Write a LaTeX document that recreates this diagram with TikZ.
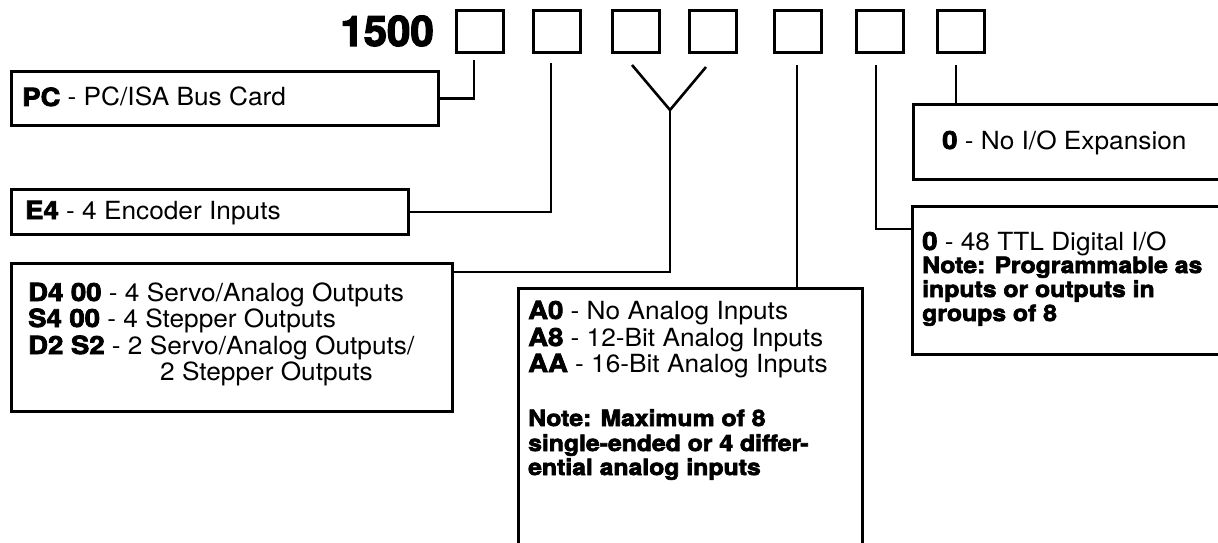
\documentclass[tikz,border=0pt]{standalone}
\usepackage{fontspec}
\setmainfont{TeX Gyre Heros}[FakeStretch=1.05, BoldFeatures={FakeBold=3, FakeStretch=1.1}]
\newfontfamily\numfont{TeX Gyre Heros}[BoldFeatures={FakeBold=3}]
\begin{document}
\begin{tikzpicture}[x=1pt,y=-1pt,
  lw/.style={line width=2.6pt},
  sq/.style={draw,lw,minimum width=47pt,minimum height=42pt,inner sep=0pt,anchor=north west},
  frame/.style={draw,lw,inner sep=0pt,anchor=north west},
  txt/.style={inner sep=0pt,anchor=base west,font=\fontsize{25}{30}\selectfont},
  notetxt/.style={inner sep=0pt,anchor=base west,font=\fontsize{22.5}{27}\selectfont\bfseries},
  wire/.style={lw}]
\useasboundingbox (0,0) rectangle (1218,543);
\clip (0,0) rectangle (1218,543);
% part number
\node[inner sep=0pt,anchor=base east,font=\fontsize{42}{46}\selectfont\numfont\bfseries] (num) at (434,46) {1500};
\foreach \x [count=\i] in {455,532,611,688,773,855,936} \node[sq] (b\i) at (\x,9.5) {};
% description boxes
\node[frame,minimum width=427pt,minimum height=54pt] (pc) at (10,70) {};
\node[frame,minimum width=397pt,minimum height=45pt] (e4) at (10,188) {};
\node[frame,minimum width=441pt,minimum height=148pt] (d4) at (10,262) {};
\node[frame,minimum width=344pt,minimum height=300pt] (ab) at (517,287) {};
\node[frame,minimum width=340pt,minimum height=75pt] (noio) at (912,103) {};
\node[frame,minimum width=340pt,minimum height=148pt] (ttl) at (911,205) {};
% texts
\node[txt] (tpc) at (22,106) {\textbf{PC} - PC/ISA Bus Card};
\node[txt] (te4) at (25,219) {\textbf{E4} - 4 Encoder Inputs};
\node[txt] (td1) at (28,301) {\textbf{D4 00} - 4 Servo/Analog Outputs};
\node[txt] (td2) at (28,327) {\textbf{S4 00} - 4 Stepper Outputs};
\node[txt] (td3) at (28,354) {\textbf{D2 S2} - 2 Servo/Analog Outputs/};
\node[txt] (td4) at (160,380) {2 Stepper Outputs};
\node[txt] (ta1) at (528,319) {\textbf{A0} - No Analog Inputs};
\node[txt] (ta2) at (528,346) {\textbf{A8} - 12-Bit Analog Inputs};
\node[txt] (ta3) at (528,372) {\textbf{AA} - 16-Bit Analog Inputs};
\node[notetxt] (tn1) at (528,426) {Note: Maximum of 8};
\node[notetxt] (tn2) at (528,451) {single-ended or 4 differ-};
\node[notetxt] (tn3) at (528,475) {ential analog inputs};
\node[txt] (tio) at (942,149) {\textbf{0} - No I/O Expansion};
\node[txt] (tt1) at (922,250) {\textbf{0} - 48 TTL Digital I/O};
\node[notetxt] (tt2) at (922,273) {Note: Programmable as};
\node[notetxt] (tt3) at (922,297) {inputs or outputs in};
\node[notetxt] (tt4) at (922,321) {groups of 8};
% connector free ends
\coordinate (c1) at (474,60);
\coordinate (c2) at (551,63);
\coordinate (c3) at (632,65);
\coordinate (c4) at (706,67);
\coordinate (yj) at (670,110);
\coordinate (c5) at (797,65);
\coordinate (c6) at (876,65);
\coordinate (c7) at (956,65);
% connectors
\draw[wire] (c1) |- (pc.east);
\draw[wire] (c2) |- (e4.east);
\draw[wire] (c3) -- (yj) -- (c4);
\draw[wire] (yj) |- ([yshift=-10pt]d4.north east);
\draw[wire] (c5) -- (c5 |- ab.north);
\draw[wire] (c6) |- ([yshift=-24pt]ttl.north west);
\draw[wire] (c7) -- (c7 |- noio.north);
\end{tikzpicture}
\end{document}
